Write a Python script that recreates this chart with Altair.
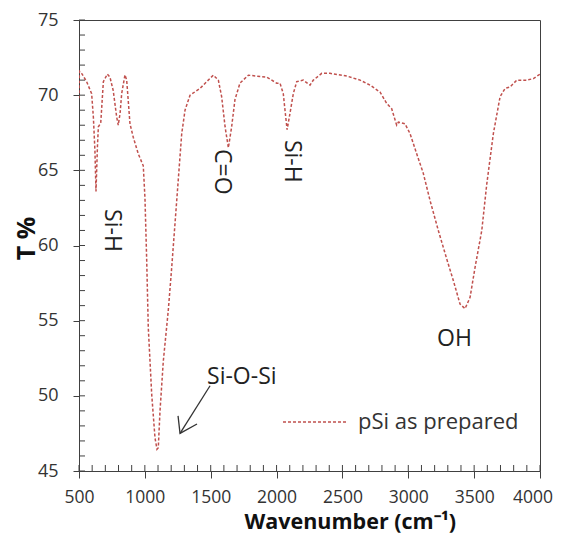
import altair as alt
import pandas as pd

# ---- spectrum ----
wavenumber = [500, 503, 520, 558, 596, 609, 621, 629, 640, 647, 665, 685, 715, 735, 760, 786, 798, 812,
              824, 849, 862, 875, 887, 912, 950, 988, 1001, 1014, 1026, 1052, 1077, 1092, 1102, 1115,
              1140, 1178, 1204, 1242, 1280, 1305, 1343, 1419, 1470, 1520, 1558, 1583, 1609, 1634, 1659,
              1684, 1722, 1786, 1849, 1925, 2001, 2026, 2051, 2064, 2080, 2102, 2127, 2153, 2203, 2254,
              2279, 2343, 2406, 2533, 2634, 2710, 2786, 2836, 2874, 2912, 2925, 2975, 3013, 3064, 3114,
              3165, 3228, 3292, 3342, 3393, 3431, 3469, 3507, 3558, 3596, 3646, 3697, 3735, 3773, 3824,
              3900, 3950, 4000]
transmittance = [69.8, 71.6, 71.45, 70.9, 70.1, 68.55, 66.3, 63.6, 66.6, 67.9, 68.15, 70.9, 71.4, 71.2,
                 70.3, 68.55, 68.0, 68.8, 70.1, 71.35, 71.0, 69.5, 68.1, 67.2, 66.1, 65.3, 63.1, 59.0,
                 54.55, 50.1, 47.2, 46.45, 46.55, 49.0, 52.3, 55.7, 58.55, 63.0, 67.45, 69.0, 70.0,
                 70.45, 70.9, 71.33, 71.0, 69.9, 67.9, 66.5, 67.9, 69.7, 70.8, 71.33, 71.27, 71.2, 70.8,
                 70.8, 70.1, 69.0, 67.7, 68.8, 70.1, 70.9, 71.0, 70.67, 71.0, 71.45, 71.45, 71.27, 71.0,
                 70.67, 70.2, 69.45, 69.1, 68.0, 68.2, 68.1, 67.45, 66.1, 64.8, 63.0, 61.0, 59.1, 57.67,
                 56.1, 55.8, 56.55, 58.55, 61.0, 64.1, 67.45, 69.9, 70.45, 70.55, 71.0, 71.0, 71.1, 71.4]

series_name = "pSi as prepared"

# ---- annotations ----
vlabel_text = ["Si-H", "C=O", "Si-H"]
vlabel_x = [750, 1586, 2117]
vlabel_y = [61.0, 64.9, 65.6]

hlabel_text = ["Si-O-Si", "OH"]
hlabel_x = [1472, 3218]
hlabel_y = [50.8, 53.33]

arrow_x = [1495, 1267, 1252, 1267, 1396]
arrow_y = [50.67, 47.5, 48.67, 47.5, 48.13]
arrow_part = ["shaft", "shaft", "head", "head", "head"]
arrow_ord = [0, 1, 0, 1, 2]

x_major = list(range(500, 4001, 500))
x_minor = list(range(500, 4001, 100))
y_major = list(range(45, 76, 5))
y_minor = list(range(45, 76, 1))
x_last_label = [4000]

RED = "#c0504d"
AXC = "#404040"
FONT = "Open Sans"
W, H = 461, 451

df = pd.DataFrame({"wn": wavenumber, "t": transmittance})
df_v = pd.DataFrame({"wn": vlabel_x, "t": vlabel_y, "txt": vlabel_text})
df_h = pd.DataFrame({"wn": hlabel_x, "t": hlabel_y, "txt": hlabel_text})
df_a = pd.DataFrame({"wn": arrow_x, "t": arrow_y, "part": arrow_part, "ord": arrow_ord})
df_leg = pd.DataFrame({"name": [series_name]})
df_xm = pd.DataFrame({"wn": x_minor})
df_ym = pd.DataFrame({"t": y_minor})
df_last = pd.DataFrame({"wn": x_last_label, "txt": [str(v) for v in x_last_label]})

xscale = alt.Scale(domain=[500, 4000], nice=False, zero=False)
yscale = alt.Scale(domain=[45, 75], nice=False, zero=False)

x_axis_main = alt.Axis(values=x_major, tickSize=7, labelPadding=10, labelFontSize=17.5, labelFont=FONT,
                       labelColor="#333333", domainColor=AXC, tickColor=AXC, grid=False,
                       labelFlush=False, format="d",
                       labelExpr="datum.value == 4000 ? '' : datum.label",
                       title="Wavenumber (cm⁻¹)", titleFont=FONT, titleFontSize=21.5,
                       titleFontWeight="bold", titleColor="#111111", titleAnchor="start",
                       titleAlign="left", titleX=165, titleY=57, titleBaseline="alphabetic")
y_axis_main = alt.Axis(values=y_major, tickSize=6, labelPadding=15, labelFontSize=18, labelFont=FONT,
                       labelColor="#333333", domainColor=AXC, tickColor=AXC, grid=False,
                       labelFlush=False,
                       title="T %", titleFont=FONT, titleFontSize=25, titleFontWeight="bold",
                       titleColor="#111111", titleAngle=270, titleAlign="center",
                       titleBaseline="middle", titleX=-53, titleY=218)

line = alt.Chart(df).mark_line(color=RED, strokeWidth=1.5, strokeDash=[3, 2], clip=True).encode(
    x=alt.X("wn:Q", scale=xscale, axis=x_axis_main),
    y=alt.Y("t:Q", scale=yscale, axis=y_axis_main),
)

# inward minor ticks
x_ticks_in = alt.Chart(df_xm).mark_rule(color=AXC, strokeWidth=1).encode(
    x=alt.X("wn:Q", scale=xscale, axis=None),
    y=alt.value(H - 6), y2=alt.value(H),
)
y_ticks_in = alt.Chart(df_ym).mark_rule(color=AXC, strokeWidth=1).encode(
    y=alt.Y("t:Q", scale=yscale, axis=None),
    x=alt.value(0), x2=alt.value(6),
)

# last x tick label kept inside the page
last_label = alt.Chart(df_last).mark_text(align="right", baseline="top", font=FONT, fontSize=17.5,
                                          color="#333333", dx=13).encode(
    x=alt.X("wn:Q", scale=xscale, axis=None),
    y=alt.value(H + 18),
    text="txt:N",
)

vlabels = alt.Chart(df_v).mark_text(angle=90, align="center", baseline="middle", font=FONT,
                                    fontSize=23, color="#222222").encode(
    x=alt.X("wn:Q", scale=xscale, axis=None),
    y=alt.Y("t:Q", scale=yscale, axis=None),
    text="txt:N",
)

hlabels = alt.Chart(df_h).mark_text(align="left", baseline="alphabetic", font=FONT,
                                    fontSize=23, color="#222222").encode(
    x=alt.X("wn:Q", scale=xscale, axis=None),
    y=alt.Y("t:Q", scale=yscale, axis=None),
    text="txt:N",
)

arrow = alt.Chart(df_a).mark_line(color="#333333", strokeWidth=1.3).encode(
    x=alt.X("wn:Q", scale=xscale, axis=None),
    y=alt.Y("t:Q", scale=yscale, axis=None),
    detail="part:N",
    order="ord:Q",
)

leg_line = alt.Chart(df_leg).mark_rule(color=RED, strokeWidth=1.5, strokeDash=[3, 2]).encode(
    x=alt.value(204), x2=alt.value(269), y=alt.value(402),
)
leg_text = alt.Chart(df_leg).mark_text(align="left", baseline="alphabetic", font=FONT, fontSize=22,
                                       color="#333333").encode(
    x=alt.value(279), y=alt.value(409), text="name:N",
)

chart = alt.layer(line, x_ticks_in, y_ticks_in, last_label, vlabels, hlabels, arrow,
                  leg_line, leg_text).resolve_axis(
    x="independent", y="independent"
).properties(
    width=W, height=H,
    padding={"left": 71, "top": 12, "right": 13, "bottom": 62},
    autosize=alt.AutoSizeParams(type="none"),
).configure_view(stroke=AXC, strokeWidth=1)

chart.save("out.html", embed_options={"renderer": "svg", "actions": False})
